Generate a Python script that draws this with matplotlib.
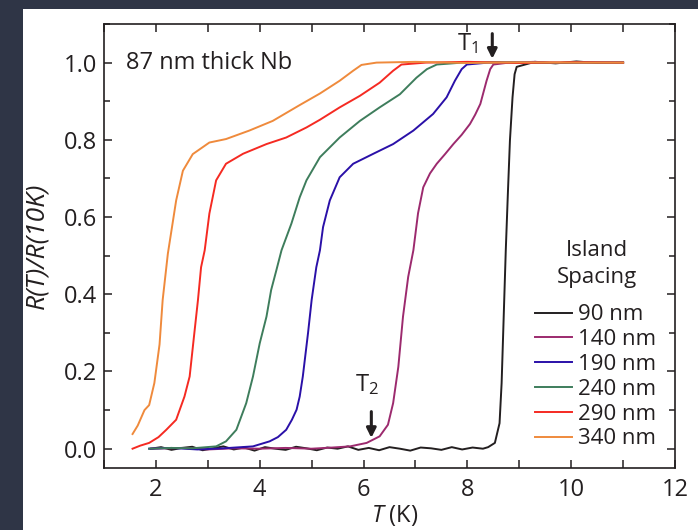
import matplotlib
matplotlib.use("Agg")
import matplotlib.pyplot as plt
from matplotlib.patches import Rectangle
from matplotlib.ticker import MultipleLocator, FuncFormatter

# Schrift und Grundeinstellungen
plt.rcParams['font.family'] = ['Open Sans', 'DejaVu Sans']
plt.rcParams['mathtext.fontset'] = 'custom'
plt.rcParams['mathtext.rm'] = 'Open Sans'
plt.rcParams['mathtext.it'] = 'Open Sans:italic'
plt.rcParams['text.color'] = '#231f20'
plt.rcParams['axes.labelcolor'] = '#231f20'

# Messkurven R(T)/R(10K)
t_90 = [1.9, 2.1, 2.3, 2.5, 2.7, 2.9, 3.1, 3.3, 3.5, 3.7, 3.9, 4.1, 4.3, 4.5, 4.7, 4.9, 5.1,
        5.3, 5.5, 5.7, 5.9, 6.1, 6.3, 6.5, 6.7, 6.9, 7.1, 7.3, 7.5, 7.7, 7.9, 8.1, 8.3,
        8.40, 8.53, 8.62, 8.66, 8.70, 8.74, 8.78, 8.82, 8.87, 8.91, 8.95,
        9.3, 9.7, 10.1, 10.5, 11.0]
r_90 = [0.0, 0.004, -0.003, 0.002, 0.005, -0.004, 0.001, 0.006, -0.002, 0.003, -0.005, 0.004,
        0.0, -0.003, 0.005, 0.001, -0.004, 0.003, 0.0, 0.006, -0.003, 0.002, -0.004, 0.004,
        0.0, -0.005, 0.003, 0.001, -0.003, 0.004, -0.002, 0.003, 0.0,
        0.004, 0.015, 0.066, 0.17, 0.342, 0.514, 0.66, 0.798, 0.91, 0.97, 0.989,
        1.002, 0.998, 1.003, 0.999, 1.0]

t_140 = [1.9, 2.5, 3.0, 3.5, 4.0, 4.5, 5.0, 5.4, 5.74, 6.06, 6.31, 6.47, 6.57, 6.67, 6.76,
         6.86, 6.96, 7.05, 7.15, 7.28, 7.41, 7.57, 7.73, 7.89, 8.05, 8.15, 8.25, 8.37, 8.44,
         8.50, 8.8, 9.3, 9.8, 10.4, 11.0]
r_140 = [0.0, 0.002, -0.002, 0.001, 0.0, 0.002, 0.0, 0.003, 0.006, 0.015, 0.032, 0.062, 0.118,
         0.212, 0.342, 0.445, 0.514, 0.61, 0.677, 0.713, 0.738, 0.763, 0.789, 0.813, 0.841,
         0.865, 0.893, 0.953, 0.983, 0.995, 1.0, 1.002, 0.999, 1.001, 1.0]

t_190 = [1.87, 2.3, 2.8, 3.3, 3.87, 4.19, 4.35, 4.51, 4.62, 4.71, 4.77, 4.83, 4.93, 5.0, 5.09,
         5.16, 5.22, 5.35, 5.54, 5.80, 6.19, 6.57, 6.96, 7.34, 7.60, 7.76, 7.89, 7.99,
         8.4, 9.0, 9.6, 10.3, 11.0]
r_190 = [0.0, 0.002, -0.002, 0.001, 0.006, 0.019, 0.03, 0.049, 0.075, 0.101, 0.135, 0.187,
         0.299, 0.385, 0.47, 0.514, 0.574, 0.643, 0.703, 0.738, 0.764, 0.789, 0.824, 0.867,
         0.910, 0.953, 0.983, 0.995, 1.0, 1.001, 0.999, 1.0, 1.0]

t_240 = [1.87, 2.3, 2.7, 3.16, 3.35, 3.55, 3.74, 3.87, 4.0, 4.13, 4.22, 4.32, 4.42, 4.61,
         4.77, 4.90, 5.16, 5.54, 5.93, 6.31, 6.70, 7.02, 7.22, 7.41, 7.9, 8.6, 9.3, 10.1, 11.0]
r_240 = [0.0, 0.002, 0.001, 0.006, 0.019, 0.049, 0.118, 0.187, 0.273, 0.342, 0.411, 0.462,
         0.514, 0.583, 0.651, 0.695, 0.755, 0.806, 0.849, 0.884, 0.918, 0.961, 0.983, 0.995,
         1.0, 1.001, 0.999, 1.0, 1.0]

t_290 = [1.55, 1.7, 1.87, 2.05, 2.20, 2.39, 2.55, 2.65, 2.74, 2.81, 2.87, 2.94, 3.03, 3.16,
         3.35, 3.68, 4.13, 4.51, 4.90, 5.16, 5.54, 5.93, 6.31, 6.57, 6.73, 7.2, 8.0, 9.0,
         10.0, 11.0]
r_290 = [0.0, 0.008, 0.015, 0.03, 0.049, 0.075, 0.135, 0.187, 0.299, 0.385, 0.47, 0.514,
         0.609, 0.695, 0.738, 0.764, 0.789, 0.806, 0.832, 0.852, 0.884, 0.914, 0.948, 0.979,
         0.995, 1.0, 1.002, 0.999, 1.001, 1.0]

t_340 = [1.55, 1.65, 1.78, 1.87, 1.97, 2.07, 2.13, 2.23, 2.39, 2.52, 2.71, 3.03, 3.35, 3.80,
         4.25, 4.77, 5.16, 5.54, 5.80, 5.96, 6.25, 7.0, 8.0, 9.0, 10.0, 11.0]
r_340 = [0.038, 0.06, 0.10, 0.113, 0.17, 0.27, 0.385, 0.505, 0.643, 0.72, 0.763, 0.793,
         0.802, 0.824, 0.849, 0.89, 0.92, 0.953, 0.979, 0.994, 1.0, 1.002, 0.999, 1.001,
         1.0, 1.0]

labels = ['90 nm', '140 nm', '190 nm', '240 nm', '290 nm', '340 nm']
farben = ['#231f20', '#9c2a6e', '#2a10a8', '#3e7d5c', '#f52a22', '#ef8a3c']

fig = plt.figure(figsize=(6.98, 5.30), dpi=100, facecolor='#2f3546')
fig.add_artist(Rectangle((23 / 698, 0), 1, 521 / 530, transform=fig.transFigure,
                         facecolor='white', edgecolor='none', zorder=-10))
ax = fig.add_axes([104 / 698, 62 / 530, 571 / 698, 444 / 530])

kurven = [(t_90, r_90), (t_140, r_140), (t_190, r_190),
          (t_240, r_240), (t_290, r_290), (t_340, r_340)]
for (t, r), lab, c in zip(kurven, labels, farben):
    ax.plot(t, r, color=c, lw=1.4, label=lab)

ax.set_xlim(1, 12)
ax.set_ylim(-0.05, 1.1)

ax.xaxis.set_major_locator(MultipleLocator(1))
ax.xaxis.set_major_formatter(FuncFormatter(lambda v, p: '%d' % v if int(round(v)) % 2 == 0 else ''))
ax.yaxis.set_major_locator(MultipleLocator(0.2))
ax.yaxis.set_minor_locator(MultipleLocator(0.1))
ax.yaxis.set_major_formatter(FuncFormatter(lambda v, p: '%.1f' % v))
ax.tick_params(which='both', direction='in', top=True, right=True, width=1.1,
               color='#231f20', labelsize=17, labelcolor='#231f20')
ax.tick_params(axis='x', which='major', length=6, pad=7)
ax.tick_params(axis='y', which='major', length=6, pad=5)
ax.tick_params(axis='y', which='minor', length=4)
for s in ax.spines.values():
    s.set_linewidth(1.2)
    s.set_color('#231f20')

ax.set_xlabel('$T$ (K)', fontsize=17)
ax.set_ylabel('R(T)/R(10K)', fontsize=19, fontstyle='italic')
ax.xaxis.set_label_coords(0.51, -0.078)
ax.yaxis.set_label_coords(-0.095, 0.5)

ax.text(1.42, 1.0, '87 nm thick Nb', fontsize=17, va='center', ha='left')

# T1 und T2 Markierungen
ax.annotate('', xy=(8.48, 1.01), xytext=(8.48, 1.075),
            arrowprops=dict(arrowstyle='-|>', lw=2.2, color='#231f20', mutation_scale=14,
                            shrinkA=0, shrinkB=0))
ax.text(8.01, 1.05, 'T$_1$', fontsize=17, ha='center', va='center')
ax.annotate('', xy=(6.15, 0.028), xytext=(6.15, 0.096),
            arrowprops=dict(arrowstyle='-|>', lw=2.2, color='#231f20', mutation_scale=14,
                            shrinkA=0, shrinkB=0))
ax.text(6.06, 0.165, 'T$_2$', fontsize=17, ha='center', va='center')

# Legende, Titel separat
ax.text(0.863, 0.459, 'Island\nSpacing', transform=ax.transAxes, fontsize=16,
        ha='center', va='center', linespacing=1.4, multialignment='center')
leg = ax.legend(loc='lower right', bbox_to_anchor=(0.982, 0.022),
                frameon=False, fontsize=16, handlelength=1.67,
                handletextpad=0.25, labelspacing=0.17, borderaxespad=0)

fig.savefig('out.png', dpi=100, facecolor=fig.get_facecolor())
